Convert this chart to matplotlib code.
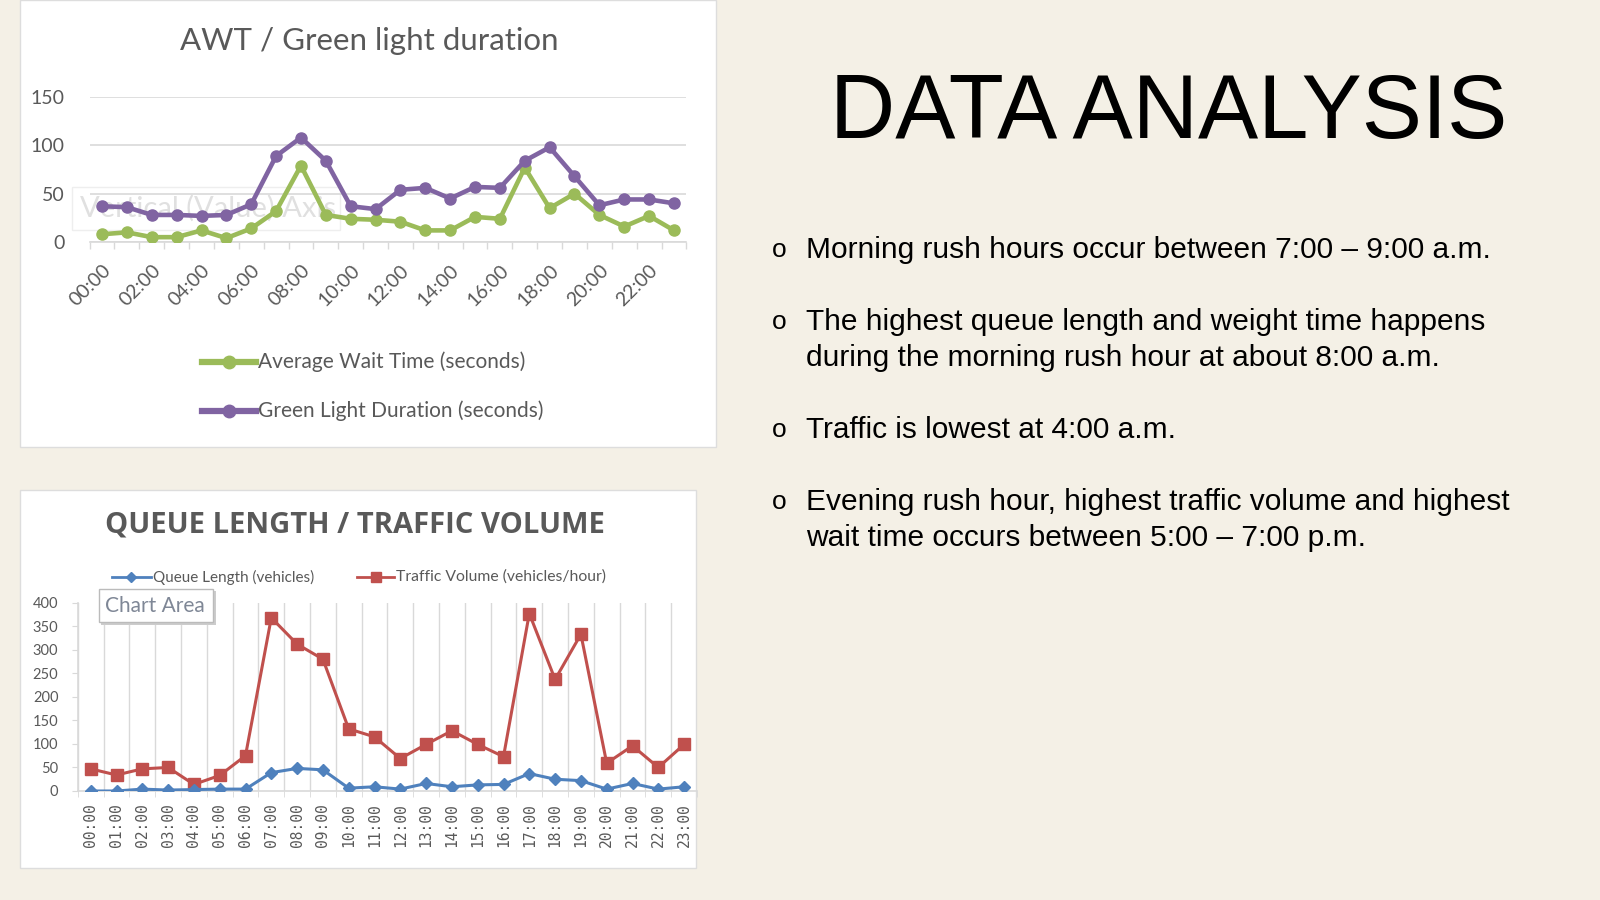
import matplotlib
matplotlib.use("Agg")
import matplotlib.pyplot as plt
from matplotlib.patches import Rectangle
from matplotlib.lines import Line2D

# ---------------- data ----------------
hours = ["00:00", "01:00", "02:00", "03:00", "04:00", "05:00", "06:00", "07:00",
         "08:00", "09:00", "10:00", "11:00", "12:00", "13:00", "14:00", "15:00",
         "16:00", "17:00", "18:00", "19:00", "20:00", "21:00", "22:00", "23:00"]
avg_wait = [8, 10, 5, 5, 12, 4, 14, 32, 79, 28, 24, 23, 21, 12, 12, 26, 24, 77, 35, 50, 28, 16, 27, 12]
green_dur = [37, 36, 28, 28, 27, 28, 39, 89, 108, 84, 37, 34, 54, 56, 45, 57, 56, 84, 98, 68, 38, 44, 44, 40]
queue_len = [0, 0, 4, 2, 3, 4, 4, 39, 48, 45, 6, 9, 4, 16, 9, 13, 14, 37, 25, 22, 4, 16, 4, 9]
traffic_vol = [47, 34, 47, 50, 14, 33, 75, 368, 312, 280, 132, 115, 69, 99, 128, 99, 73, 377, 237, 333, 59, 96, 50, 99]
top_yticks = [0, 50, 100, 150]
bot_yticks = [0, 50, 100, 150, 200, 250, 300, 350, 400]

bullets = [
    ["Morning rush hours occur between 7:00 \u2013 9:00 a.m."],
    ["The highest queue length and weight time happens",
     "during the morning rush hour at about 8:00 a.m."],
    ["Traffic is lowest at 4:00 a.m."],
    ["Evening rush hour, highest traffic volume and highest",
     "wait time occurs between 5:00 \u2013 7:00 p.m."],
]

# ---------------- style ----------------
W, H = 1600, 900
BG = "#F4F0E6"
GRAY = "#595959"
GRID = "#D9D9D9"
PURPLE = "#8064A2"
GREEN = "#9BBB59"
BLUE = "#4F81BD"
RED = "#C0504D"
CHART_FONT = ["Lato", "DejaVu Sans"]
SLIDE_FONT = ["Liberation Sans", "DejaVu Sans"]

fig = plt.figure(figsize=(16, 9), dpi=100, facecolor=BG)


def fx(x):
    return x / W


def fy(y):
    return 1 - y / H


def frect(x0, y0, x1, y1, **kw):
    r = Rectangle((fx(x0), fy(y1)), (x1 - x0) / W, (y1 - y0) / H,
                  transform=fig.transFigure, **kw)
    fig.patches.append(r)
    return r


def add_axes_px(x0, y0, x1, y1):
    ax = fig.add_axes([fx(x0), fy(y1), (x1 - x0) / W, (y1 - y0) / H])
    ax.set_facecolor("none")
    ax.set_zorder(2)
    return ax


# ---------------- panels ----------------
frect(20, 0, 716, 447, facecolor="white", edgecolor="#DDDDDD", lw=1, zorder=0.1)
frect(20, 490, 696, 868, facecolor="white", edgecolor="#DDDDDD", lw=1, zorder=0.1)

# ---------------- top chart ----------------
fig.text(fx(369), fy(41), "AWT / Green light duration", ha="center", va="center",
         fontsize=22.5, color=GRAY, family=CHART_FONT)

# faint tooltip artifact
frect(72, 187, 340, 230, facecolor="white", edgecolor="#EEEEEE", lw=1, zorder=0.15)
fig.text(fx(80), fy(208), "Vertical (Value) Axis", ha="left", va="center",
         fontsize=21, color="#E0E0E0", family=CHART_FONT, zorder=0.2)

x = list(range(len(hours)))
ax1 = add_axes_px(89.6, 97, 686.4, 242)
ax1.plot(x, avg_wait, color=GREEN, lw=3.3, marker="o", ms=8, zorder=3)
ax1.plot(x, green_dur, color=PURPLE, lw=3.3, marker="o", ms=8, zorder=3)
ax1.set_xlim(-0.5, len(hours) - 0.5)
ax1.set_ylim(0, 150)
ax1.set_yticks(top_yticks)
ax1.set_yticklabels([str(v) for v in top_yticks], fontsize=14, color=GRAY, family=CHART_FONT)
ax1.tick_params(axis="y", length=0, pad=18)
ax1.grid(axis="y", color=GRID, lw=1.2)
for s in ["top", "right", "left"]:
    ax1.spines[s].set_visible(False)
ax1.spines["bottom"].set_color(GRID)
ax1.spines["bottom"].set_linewidth(1.2)
ax1.set_xticks(x[::2])
ax1.set_xticklabels(hours[::2], rotation=45, ha="right", va="top", rotation_mode="anchor",
                    fontsize=14, color=GRAY, family=CHART_FONT)
ax1.tick_params(axis="x", which="major", length=0, pad=14)
ax1.set_xticks([i - 0.5 for i in range(len(hours) + 1)], minor=True)
ax1.tick_params(axis="x", which="minor", length=5, color=GRID, width=1)

# legend (top)
for yy, col, lab in [(362, GREEN, "Average Wait Time (seconds)"),
                     (411, PURPLE, "Green Light Duration (seconds)")]:
    fig.add_artist(Line2D([fx(202), fx(256)], [fy(yy), fy(yy)], transform=fig.transFigure,
                          color=col, lw=4.5, zorder=3))
    fig.add_artist(Line2D([fx(229)], [fy(yy)], transform=fig.transFigure, color=col,
                          marker="o", ms=9, zorder=3))
    fig.text(fx(258), fy(yy), lab, ha="left", va="center", fontsize=15, color=GRAY,
             family=CHART_FONT)

# ---------------- bottom chart ----------------
fig.text(fx(355), fy(525), "QUEUE LENGTH / TRAFFIC VOLUME", ha="center", va="center",
         fontsize=21, fontweight="bold", color=GRAY, family=["Open Sans", "DejaVu Sans"])

# legend (bottom)
fig.add_artist(Line2D([fx(112), fx(151)], [fy(577), fy(577)], transform=fig.transFigure,
                      color=BLUE, lw=2))
fig.add_artist(Line2D([fx(131)], [fy(577)], transform=fig.transFigure, color=BLUE,
                      marker="D", ms=5))
fig.text(fx(153), fy(577), "Queue Length (vehicles)", ha="left", va="center",
         fontsize=11, color=GRAY, family=CHART_FONT)
fig.add_artist(Line2D([fx(357), fx(394)], [fy(577), fy(577)], transform=fig.transFigure,
                      color=RED, lw=2))
fig.add_artist(Line2D([fx(375.5)], [fy(577)], transform=fig.transFigure, color=RED,
                      marker="s", ms=7))
fig.text(fx(396), fy(577), "Traffic Volume (vehicles/hour)", ha="left", va="center",
         fontsize=11.3, color=GRAY, family=CHART_FONT)

ax2 = add_axes_px(77.8, 602.7, 697, 791)
ax2.plot(x, traffic_vol, color=RED, lw=2.2, marker="s", ms=8, zorder=3)
ax2.plot(x, queue_len, color=BLUE, lw=2.2, marker="D", ms=6, zorder=4)
ax2.set_xlim(-0.5, len(hours) - 0.5)
ax2.set_ylim(0, 400)
ax2.set_yticks(bot_yticks)
ax2.set_yticklabels([str(v) for v in bot_yticks], fontsize=10.5, color=GRAY, family=CHART_FONT)
ax2.tick_params(axis="y", length=4, color=GRID, pad=10)
for s in ["top", "right"]:
    ax2.spines[s].set_visible(False)
for s in ["bottom", "left"]:
    ax2.spines[s].set_color(GRID)
    ax2.spines[s].set_linewidth(1.2)
ax2.set_xticks(x)
ax2.set_xticklabels(hours, rotation=90, ha="center", va="top", fontsize=10.5, color=GRAY,
                    family=["DejaVu Sans Mono"])
ax2.tick_params(axis="x", which="major", length=0, pad=9)
ax2.set_xticks([i - 0.5 for i in range(len(hours) + 1)], minor=True)
ax2.tick_params(axis="x", which="minor", length=4, color=GRID)
ax2.grid(axis="x", which="minor", color=GRID, lw=1)

# "Chart Area" tooltip
frect(101, 591, 216, 625, facecolor="#CCCCCC", edgecolor="none", zorder=5)
frect(99, 589, 213, 622, facecolor="white", edgecolor="#BBBBBB", lw=1, zorder=5.1)
fig.text(fx(155), fy(606), "Chart Area", ha="center", va="center", fontsize=15,
         color="#7F8796", family=CHART_FONT, zorder=6)

# ---------------- slide text ----------------
fig.text(fx(1169), fy(138), "DATA ANALYSIS", ha="center", va="baseline", fontsize=65,
         color="black", family=SLIDE_FONT)

line_gap = 36
para_gap = [0, 72, 72, 72]
ypos = 258
for i, para in enumerate(bullets):
    if i > 0:
        ypos += para_gap[i]
    fig.text(fx(779), fy(ypos - 1), "o", ha="center", va="baseline", fontsize=19,
             color="black", family=SLIDE_FONT)
    for j, line in enumerate(para):
        if j > 0:
            ypos += line_gap
        fig.text(fx(806), fy(ypos), line, ha="left", va="baseline", fontsize=21.5,
                 color="black", family=SLIDE_FONT)

fig.savefig("out.png", dpi=100, facecolor=BG)
